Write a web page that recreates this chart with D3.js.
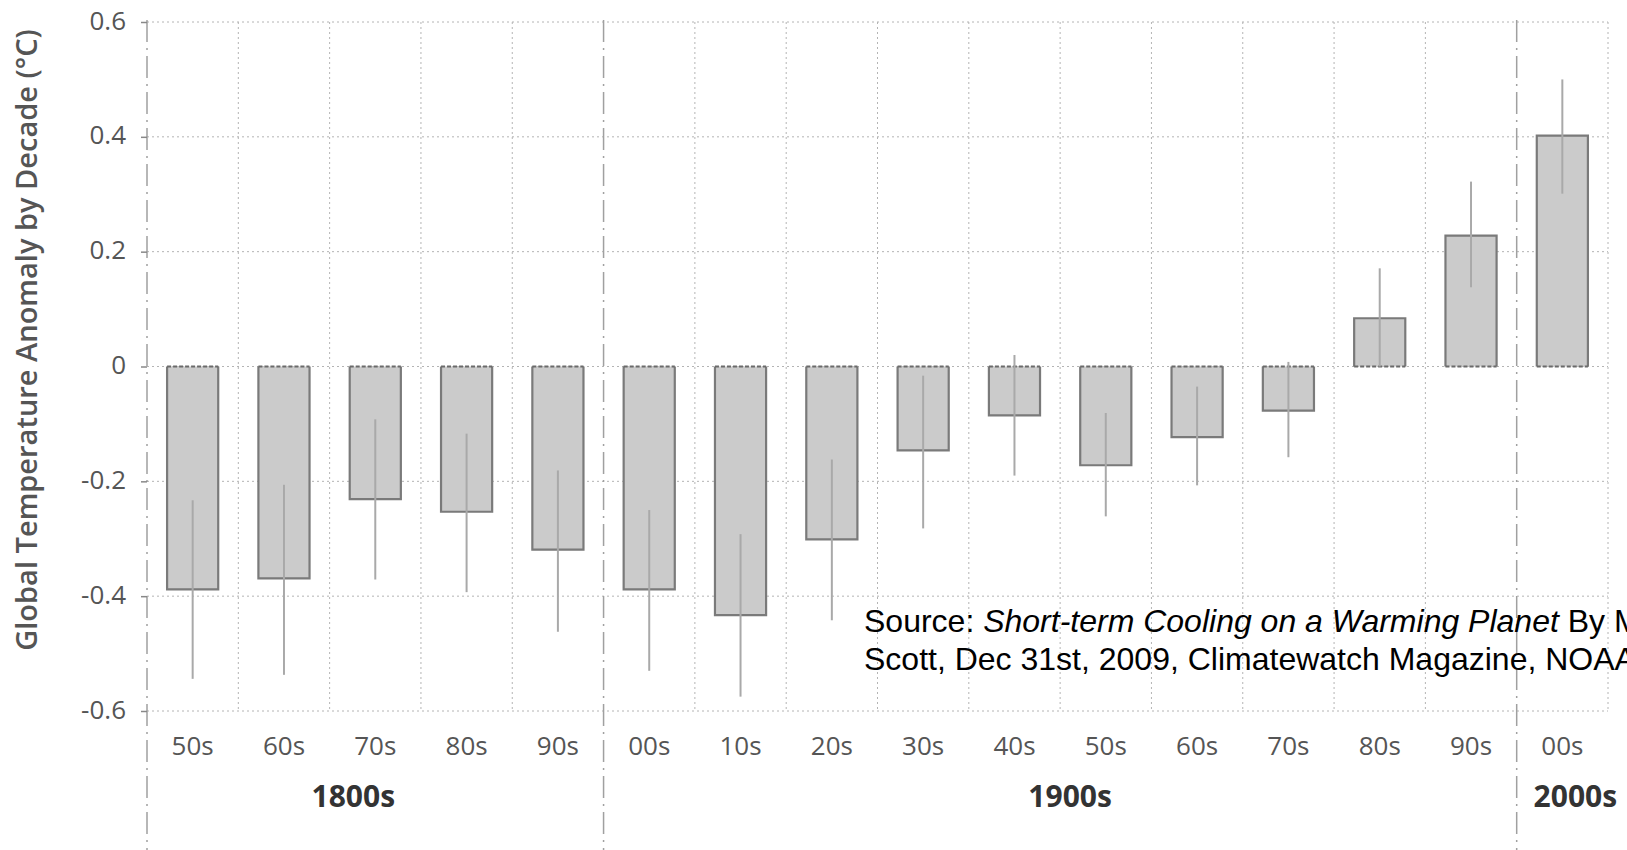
<!doctype html>
<html>
  <head>
    <meta charset="utf-8">
    <script src="https://d3js.org/d3.v7.min.js"></script>
    <style>
      body { margin: 0; background: #fff; }
      svg { display: block; overflow: hidden; }
    </style>
  </head>
  <body>
    <svg id="chart" width="1627" height="850"></svg>

    <script>
      // decade ids have to be unique for the band scale, labels are what gets shown
      var decadeIds = ["1850s", "1860s", "1870s", "1880s", "1890s",
                       "1900s", "1910s", "1920s", "1930s", "1940s",
                       "1950s", "1960s", "1970s", "1980s", "1990s", "2000s"];
      var decadeLabels = ["50s", "60s", "70s", "80s", "90s",
                          "00s", "10s", "20s", "30s", "40s",
                          "50s", "60s", "70s", "80s", "90s", "00s"];

      // anomaly per decade (degrees C)
      var anomaly = [-0.388, -0.369, -0.231, -0.253, -0.319,
                     -0.388, -0.433, -0.301, -0.146, -0.085,
                     -0.172, -0.123, -0.077, 0.084, 0.228, 0.402];
      // uncertainty range, bottom and top of each whisker
      var errLow  = [-0.544, -0.537, -0.371, -0.393, -0.462,
                     -0.530, -0.575, -0.442, -0.282, -0.190,
                     -0.261, -0.207, -0.158, 0.000, 0.138, 0.301];
      var errHigh = [-0.233, -0.206, -0.092, -0.117, -0.181,
                     -0.250, -0.292, -0.162, -0.016, 0.020,
                     -0.081, -0.035, 0.008, 0.171, 0.322, 0.500];

      // century groups: first and last decade index of each
      var centuries = ["1800s", "1900s", "2000s"];
      var centuryFirst = [0, 5, 15];
      var centuryLast = [4, 14, 15];

      var yTicks = [-0.6, -0.4, -0.2, 0, 0.2, 0.4, 0.6];
      var yTickLabels = ["-0.6", "-0.4", "-0.2", "0", "0.2", "0.4", "0.6"];

      var yTitle = "Global Temperature Anomaly by Decade (\u00b0C)";

      // ---- layout ----
      // (window.top is read-only, so no bare "top" here)
      var plotL = 147, plotR = 1608, plotT = 22, plotB = 711;
      var svg = d3.select("#chart");

      var x = d3.scaleBand()
        .domain(decadeIds)
        .range([plotL, plotR])
        .paddingInner(0.44)
        .paddingOuter(0.22);

      var y = d3.scaleLinear()
        .domain([-0.6, 0.6])
        .range([plotB, plotT]);

      var step = x.step();
      // left edge of a decade's cell (where the dotted grid lines sit)
      function cellStart(i) { return x(decadeIds[i]) - step * x.paddingOuter(); }
      function cellMid(i) { return x(decadeIds[i]) + x.bandwidth() / 2; }

      var grid = svg.append("g")
        .attr("stroke", "#b4b4b4")
        .attr("stroke-width", 1)
        .attr("stroke-dasharray", "2,3");

      // horizontal grid
      grid.selectAll("line.h")
        .data(yTicks)
        .enter()
        .append("line")
          .attr("class", "h")
          .attr("x1", plotL)
          .attr("x2", plotR)
          .attr("y1", function(d) { return y(d); })
          .attr("y2", function(d) { return y(d); });

      // vertical grid at every cell boundary (skip the ones that are century separators)
      var boundaries = d3.range(1, decadeIds.length + 1).filter(function(i) {
        return centuryFirst.indexOf(i) < 0;
      });
      grid.selectAll("line.v")
        .data(boundaries)
        .enter()
        .append("line")
          .attr("class", "v")
          .attr("x1", function(i) { return i < decadeIds.length ? cellStart(i) : plotR; })
          .attr("x2", function(i) { return i < decadeIds.length ? cellStart(i) : plotR; })
          .attr("y1", plotT)
          .attr("y2", plotB);

      // dash-dot lines: the y axis itself plus the century separators
      svg.append("g")
        .selectAll("line")
        .data(centuryFirst)
        .enter()
        .append("line")
          .attr("x1", function(i) { return cellStart(i); })
          .attr("x2", function(i) { return cellStart(i); })
          .attr("y1", plotT - 2)
          .attr("y2", 850)
          .attr("stroke", "#a0a0a0")
          .attr("stroke-width", 1.5)
          .attr("stroke-dasharray", "22,6,2,6");

      // y axis ticks and labels
      var yAxis = d3.axisLeft(y)
        .tickValues(yTicks)
        .tickFormat(function(d, i) { return yTickLabels[i]; })
        .tickSize(6)
        .tickPadding(15);

      var yg = svg.append("g")
        .attr("transform", "translate(" + plotL + ",0)")
        .call(yAxis);
      yg.select(".domain").remove();
      yg.selectAll(".tick line").attr("stroke", "#888").attr("stroke-width", 1.5);
      yg.selectAll(".tick text")
        .attr("dy", null)
        .attr("y", 7)
        .attr("fill", "#555")
        .style("font-family", "'Open Sans', sans-serif")
        .style("font-size", "26px");

      // bars: three solid sides, dashed edge along zero
      var bars = svg.append("g");
      bars.selectAll("rect")
        .data(anomaly)
        .enter()
        .append("rect")
          .attr("x", function(d, i) { return x(decadeIds[i]); })
          .attr("width", x.bandwidth())
          .attr("y", function(d) { return y(Math.max(0, d)); })
          .attr("height", function(d) { return Math.abs(y(d) - y(0)); })
          .attr("fill", "#cbcbcb");

      bars.selectAll("path")
        .data(anomaly)
        .enter()
        .append("path")
          .attr("fill", "none")
          .attr("stroke", "#7a7a7a")
          .attr("stroke-width", 2.2)
          .attr("d", function(d, i) {
            var x0 = x(decadeIds[i]), x1 = x0 + x.bandwidth();
            return "M" + x0 + "," + y(0) + "V" + y(d) + "H" + x1 + "V" + y(0);
          });

      bars.selectAll("line")
        .data(anomaly)
        .enter()
        .append("line")
          .attr("x1", function(d, i) { return x(decadeIds[i]); })
          .attr("x2", function(d, i) { return x(decadeIds[i]) + x.bandwidth(); })
          .attr("y1", y(0))
          .attr("y2", y(0))
          .attr("stroke", "#6a6a6a")
          .attr("stroke-width", 2)
          .attr("stroke-dasharray", "4,2");

      // whiskers
      svg.append("g")
        .selectAll("line")
        .data(anomaly)
        .enter()
        .append("line")
          .attr("x1", function(d, i) { return cellMid(i); })
          .attr("x2", function(d, i) { return cellMid(i); })
          .attr("y1", function(d, i) { return y(errLow[i]); })
          .attr("y2", function(d, i) { return y(errHigh[i]); })
          .attr("stroke", "#a9a9a9")
          .attr("stroke-width", 2);

      // decade labels under the plot
      svg.append("g")
        .selectAll("text")
        .data(decadeLabels)
        .enter()
        .append("text")
          .attr("x", function(d, i) { return cellMid(i); })
          .attr("y", 755)
          .attr("text-anchor", "middle")
          .attr("fill", "#555")
          .style("font-family", "'Open Sans', sans-serif")
          .style("font-size", "26px")
          .text(function(d) { return d; });

      // century labels; the original sets them a little off the group middle
      var centuryNudge = [-22, 10, 13];
      svg.append("g")
        .selectAll("text")
        .data(centuries)
        .enter()
        .append("text")
          .attr("x", function(d, i) {
            return (cellMid(centuryFirst[i]) + cellMid(centuryLast[i])) / 2 + centuryNudge[i];
          })
          .attr("y", 807)
          .attr("text-anchor", "middle")
          .attr("fill", "#333")
          .style("font-family", "'Open Sans', sans-serif")
          .style("font-size", "30px")
          .style("font-weight", "700")
          .text(function(d) { return d; });

      // y title
      svg.append("text")
        .attr("transform", "translate(37,340) rotate(-90)")
        .attr("text-anchor", "middle")
        .attr("fill", "#555")
        .style("font-family", "'Open Sans', sans-serif")
        .style("font-size", "29px")
        .style("font-weight", "600")
        .text(yTitle);

      // source note (runs off the right edge, same as the original)
      var note = svg.append("text")
        .attr("x", 864)
        .attr("y", 632)
        .attr("fill", "#000")
        .style("font-family", "'Liberation Sans', Arial, sans-serif")
        .style("font-size", "32px");
      note.append("tspan").text("Source: ");
      note.append("tspan").style("font-style", "italic").text("Short-term Cooling on a Warming Planet");
      note.append("tspan").text(" By Michon");
      note.append("tspan").attr("x", 864).attr("y", 670)
        .text("Scott, Dec 31st, 2009, Climatewatch Magazine, NOAA");
    </script>
  </body>
</html>
